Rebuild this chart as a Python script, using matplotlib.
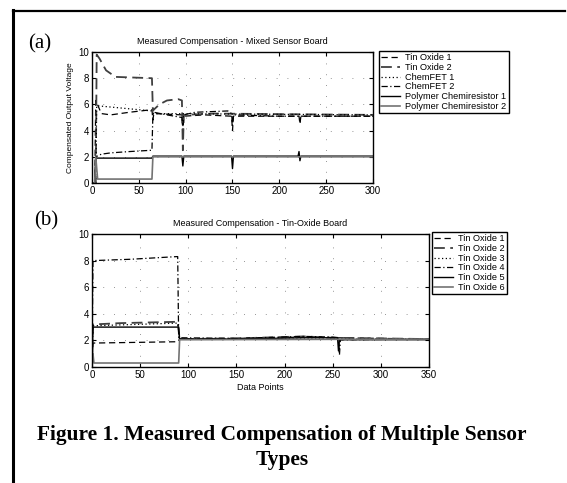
import matplotlib
matplotlib.use("Agg")
import matplotlib.pyplot as plt
from matplotlib.lines import Line2D

# ---------------- data: panel (a) Mixed Sensor Board ----------------
labels_a = ["Tin Oxide 1", "Tin Oxide 2", "ChemFET 1", "ChemFET 2",
            "Polymer Chemiresistor 1", "Polymer Chemiresistor 2"]

x_a_tin1 = [0, 3, 4, 10, 20, 40, 64, 65, 66, 96, 97, 98, 120, 149, 150, 151, 221, 222, 223, 300]
y_a_tin1 = [0, 0, 6.3, 5.3, 5.2, 5.4, 5.6, 4.8, 5.3, 5.2, 3.9, 5.1, 5.2, 5.1, 4.0, 5.1, 5.1, 4.5, 5.1, 5.1]

x_a_tin2 = [0, 4, 5, 8, 15, 25, 64, 65, 66, 72, 80, 92, 96, 97, 98, 130, 300]
y_a_tin2 = [0, 0, 9.8, 9.5, 8.6, 8.1, 8.0, 5.5, 5.6, 6.0, 6.3, 6.4, 6.3, 2.5, 5.2, 5.3, 5.2]

x_a_cf1 = [0, 4, 5, 64, 66, 300]
y_a_cf1 = [0, 0, 5.9, 5.5, 5.3, 5.2]

x_a_cf2 = [0, 3, 4, 10, 20, 40, 64, 65, 66, 80, 96, 97, 98, 110, 145, 149, 150, 151, 200, 300]
y_a_cf2 = [0, 0, 2.0, 2.2, 2.3, 2.4, 2.5, 5.2, 5.4, 5.2, 5.0, 4.3, 5.2, 5.4, 5.5, 5.3, 4.4, 5.2, 5.1, 5.1]

x_a_pc1 = [0, 3, 4, 64, 65, 96, 97, 98, 149, 150, 151, 220, 221, 222, 223, 300]
y_a_pc1 = [0, 0, 1.9, 1.9, 2.05, 2.05, 1.3, 2.05, 2.05, 1.1, 2.05, 2.05, 2.4, 1.7, 2.05, 2.05]

x_a_pc2 = [0, 3, 4, 6, 64, 65, 300]
y_a_pc2 = [0, 0, 2.0, 0.3, 0.3, 2.0, 2.0]

# ---------------- data: panel (b) Tin-Oxide Board ----------------
labels_b = ["Tin Oxide 1", "Tin Oxide 2", "Tin Oxide 3", "Tin Oxide 4",
            "Tin Oxide 5", "Tin Oxide 6"]

x_b_1 = [0, 1, 89, 91, 150, 220, 250, 350]
y_b_1 = [0, 1.8, 1.9, 2.1, 2.15, 2.25, 2.2, 2.1]

x_b_2 = [0, 1, 30, 89, 91, 150, 220, 250, 350]
y_b_2 = [0, 3.2, 3.3, 3.4, 2.1, 2.15, 2.3, 2.2, 2.1]

x_b_3 = [0, 1, 89, 91, 350]
y_b_3 = [0, 3.1, 3.3, 2.1, 2.1]

x_b_4 = [0, 1, 40, 88, 89, 90, 150, 220, 250, 256, 257, 258, 350]
y_b_4 = [0, 8.0, 8.1, 8.3, 8.3, 2.2, 2.15, 2.3, 2.25, 2.2, 0.9, 2.05, 2.1]

x_b_5 = [0, 1, 90, 91, 150, 220, 255, 256, 257, 350]
y_b_5 = [0, 3.0, 3.0, 2.1, 2.1, 2.2, 2.2, 1.2, 2.05, 2.05]

x_b_6 = [0, 1, 2, 90, 91, 350]
y_b_6 = [0, 1.0, 0.3, 0.3, 2.05, 2.1]

# ---------------- styling ----------------
SANS = ["Liberation Sans", "DejaVu Sans"]
SERIF = ["Liberation Serif", "DejaVu Serif"]
plt.rcParams["font.family"] = SANS

W, H = 567, 483
fig = plt.figure(figsize=(W / 100, H / 100), dpi=100)

styles = [
    dict(color="black", ls=(0, (5, 3)), lw=0.9),
    dict(color="0.25", ls=(0, (6, 3)), lw=1.3),
    dict(color="black", ls=(0, (1, 2)), lw=0.9),
    dict(color="black", ls=(0, (5, 2, 1, 2)), lw=0.9),
    dict(color="black", ls="-", lw=1.0),
    dict(color="0.45", ls="-", lw=1.2),
]


def style_axes(ax, xmax, xticks):
    ax.set_xlim(0, xmax)
    ax.set_ylim(0, 10)
    ax.set_xticks(xticks)
    ax.set_yticks([0, 2, 4, 6, 8, 10])
    ax.tick_params(direction="in", top=True, right=True, length=3,
                   width=0.8, labelsize=7, pad=2)
    ax.grid(True, color="0.45", ls=(0, (1, 12)), lw=0.6)
    for s in ax.spines.values():
        s.set_linewidth(1.0)


legend_kw = dict(loc="upper left", bbox_transform=fig.transFigure, fontsize=6.6,
                 frameon=True, fancybox=False, edgecolor="black",
                 framealpha=1, borderpad=0.25, labelspacing=0.08,
                 handlelength=2.0, handletextpad=0.6, borderaxespad=0)

# panel (a)
ax1 = fig.add_axes([92 / W, 1 - 183 / H, (373 - 92) / W, (183 - 52) / H])
series_a = [(x_a_tin1, y_a_tin1), (x_a_tin2, y_a_tin2), (x_a_cf1, y_a_cf1),
            (x_a_cf2, y_a_cf2), (x_a_pc1, y_a_pc1), (x_a_pc2, y_a_pc2)]
for (x, y), lab, st in zip(series_a, labels_a, styles):
    ax1.plot(x, y, label=lab, **st)
style_axes(ax1, 300, [0, 50, 100, 150, 200, 250, 300])
ax1.set_title("Measured Compensation - Mixed Sensor Board", fontsize=6.5, pad=6)
ax1.set_ylabel("Compensated Output Voltage", fontsize=6, labelpad=3)
leg1 = ax1.legend(bbox_to_anchor=(379 / W, 1 - 51 / H), **legend_kw)
leg1.get_frame().set_linewidth(1.0)

# panel (b)
ax2 = fig.add_axes([92 / W, 1 - 367 / H, (429 - 92) / W, (367 - 234) / H])
series_b = [(x_b_1, y_b_1), (x_b_2, y_b_2), (x_b_3, y_b_3),
            (x_b_4, y_b_4), (x_b_5, y_b_5), (x_b_6, y_b_6)]
for (x, y), lab, st in zip(series_b, labels_b, styles):
    ax2.plot(x, y, label=lab, **st)
style_axes(ax2, 350, [0, 50, 100, 150, 200, 250, 300, 350])
ax2.set_title("Measured Compensation - Tin-Oxide Board", fontsize=6.5, pad=6)
ax2.set_xlabel("Data Points", fontsize=6.5, labelpad=2)
leg2 = ax2.legend(bbox_to_anchor=(432 / W, 1 - 232 / H), **legend_kw)
leg2.get_frame().set_linewidth(1.0)

# panel labels
fig.text(28 / W, 1 - 44 / H, "(a)", family=SERIF, fontsize=15,
         ha="left", va="center")
fig.text(34 / W, 1 - 221 / H, "(b)", family=SERIF, fontsize=15,
         ha="left", va="center")

# caption
fig.text(282 / W, 1 - 435 / H, "Figure 1. Measured Compensation of Multiple Sensor",
         family=SERIF, fontsize=15.4, weight="bold", ha="center", va="center")
fig.text(282 / W, 1 - 460 / H, "Types",
         family=SERIF, fontsize=15.4, weight="bold", ha="center", va="center")

# page frame lines (scan border)
fig.add_artist(Line2D([13 / W, 13 / W], [0, 1 - 10 / H], transform=fig.transFigure,
                      color="black", lw=2.2))
fig.add_artist(Line2D([13 / W, 565 / W], [1 - 11 / H, 1 - 11 / H], transform=fig.transFigure,
                      color="black", lw=1.6))

fig.savefig("out.png", dpi=100, facecolor="white")
